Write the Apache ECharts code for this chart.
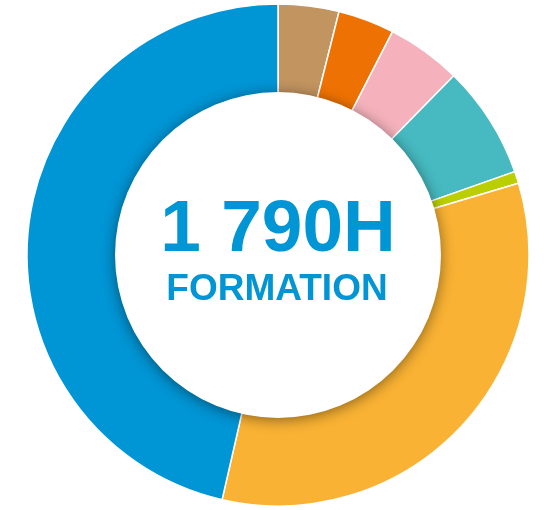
<!DOCTYPE html>
<html>
<head>
<meta charset="utf-8">
<script src="https://cdn.jsdelivr.net/npm/echarts@6/dist/echarts.min.js"></script>
<style>html,body{margin:0;padding:0;background:#fff}#c{width:548px;height:510px}</style>
</head>
<body>
<div id="c"></div>
<script>
const categories = ['Catégorie 1', 'Catégorie 2', 'Catégorie 3', 'Catégorie 4', 'Catégorie 5', 'Catégorie 6', 'Catégorie 7'];
const hours = [70, 65, 86, 130, 14, 594, 831];
const colors = ['#C19460', '#EE7203', '#F5B2BC', '#46BAC0', '#BBCF00', '#F9B233', '#0095D5'];
const totalLabel = '1 790H';
const subLabel = 'FORMATION';

const chart = echarts.init(document.getElementById('c'), null, {renderer: 'canvas'});
chart.setOption({
  animation: false,
  series: [
    {
      type: 'pie',
      center: [278, 255],
      radius: [160, 251],
      startAngle: 90,
      clockwise: true,
      label: {show: false},
      labelLine: {show: false},
      itemStyle: {borderColor: '#ffffff', borderWidth: 1.5},
      data: categories.map((n, i) => ({name: n, value: hours[i], itemStyle: {color: colors[i]}}))
    },
    {
      type: 'pie',
      center: [278, 255],
      radius: [0, 163],
      silent: true,
      z: 3,
      label: {show: false},
      labelLine: {show: false},
      itemStyle: {color: '#ffffff', shadowBlur: 14, shadowColor: 'rgba(0,0,0,0.45)', shadowOffsetY: 2},
      data: [{name: 'centre', value: 1}]
    }
  ],
  graphic: [
    {type: 'text', z: 10, style: {text: totalLabel, x: 278, y: 231, textAlign: 'center', textVerticalAlign: 'middle', fill: '#0095D5', font: 'bold 73px "Liberation Sans", Arial, sans-serif'}},
    {type: 'text', z: 10, style: {text: subLabel, x: 277, y: 290, textAlign: 'center', textVerticalAlign: 'middle', fill: '#0095D5', font: 'bold 37px "Liberation Sans", Arial, sans-serif'}}
  ]
});
</script>
</body>
</html>
